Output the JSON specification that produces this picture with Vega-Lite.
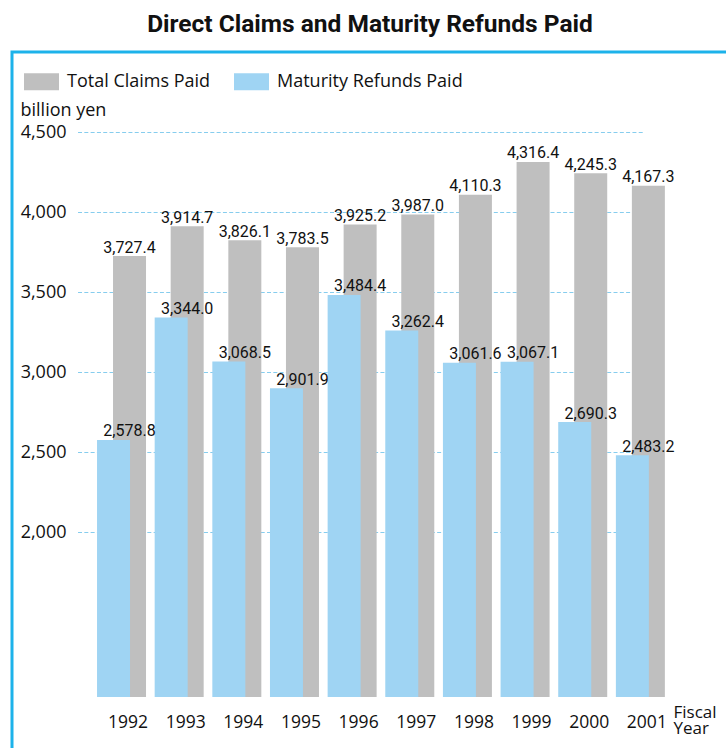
{
  "$schema": "https://vega.github.io/schema/vega-lite/v6.json",
  "width": 726,
  "height": 720,
  "autosize": {"type": "none"},
  "padding": {"left": 12, "top": 52, "right": 0, "bottom": 0},
  "background": "white",
  "title": {
    "text": "Direct Claims and Maturity Refunds Paid",
    "font": "Roboto",
    "fontSize": 24.5,
    "fontWeight": "bold",
    "color": "#111111",
    "anchor": "middle",
    "frame": "group",
    "dx": -5,
    "dy": 26,
    "offset": 22,
    "baseline": "alphabetic"
  },
  "config": {
    "view": {"stroke": "#1cb2ea", "strokeWidth": 3},
    "font": "Open Sans"
  },
  "datasets": {
    "bars": [
      {"year": "1992", "series": "Total Claims Paid", "value": 3727.4},
      {"year": "1993", "series": "Total Claims Paid", "value": 3914.7},
      {"year": "1994", "series": "Total Claims Paid", "value": 3826.1},
      {"year": "1995", "series": "Total Claims Paid", "value": 3783.5},
      {"year": "1996", "series": "Total Claims Paid", "value": 3925.2},
      {"year": "1997", "series": "Total Claims Paid", "value": 3987.0},
      {"year": "1998", "series": "Total Claims Paid", "value": 4110.3},
      {"year": "1999", "series": "Total Claims Paid", "value": 4316.4},
      {"year": "2000", "series": "Total Claims Paid", "value": 4245.3},
      {"year": "2001", "series": "Total Claims Paid", "value": 4167.3},
      {"year": "1992", "series": "Maturity Refunds Paid", "value": 2578.8},
      {"year": "1993", "series": "Maturity Refunds Paid", "value": 3344.0},
      {"year": "1994", "series": "Maturity Refunds Paid", "value": 3068.5},
      {"year": "1995", "series": "Maturity Refunds Paid", "value": 2901.9},
      {"year": "1996", "series": "Maturity Refunds Paid", "value": 3484.4},
      {"year": "1997", "series": "Maturity Refunds Paid", "value": 3262.4},
      {"year": "1998", "series": "Maturity Refunds Paid", "value": 3061.6},
      {"year": "1999", "series": "Maturity Refunds Paid", "value": 3067.1},
      {"year": "2000", "series": "Maturity Refunds Paid", "value": 2690.3},
      {"year": "2001", "series": "Maturity Refunds Paid", "value": 2483.2}
    ],
    "grid": [
      {"value": 2000}, {"value": 2500}, {"value": 3000}, {"value": 3500}, {"value": 4000}, {"value": 4500}
    ]
  },
  "data": {"name": "bars"},
  "encoding": {
    "x": {
      "field": "year",
      "type": "nominal",
      "title": ["Fiscal", "Year"],
      "scale": {
        "domain": ["1992", "1993", "1994", "1995", "1996", "1997", "1998", "1999", "2000", "2001"],
        "range": [80.7, 657.2],
        "paddingInner": 0,
        "paddingOuter": 0
      },
      "axis": {
        "orient": "bottom",
        "offset": -75,
        "domain": false,
        "ticks": false,
        "grid": false,
        "labelAngle": 0,
        "labelFont": "Open Sans",
        "labelFontSize": 17.5,
        "labelColor": "#111111",
        "labelOffset": 6.5,
        "labelBaseline": "alphabetic",
        "labelPadding": 30,
        "titleFont": "Open Sans",
        "titleAlign": "left",
        "titleBaseline": "alphabetic",
        "titleX": 661,
        "titleY": 20,
        "titleFontSize": 17,
        "titleFontWeight": "normal",
        "titleColor": "#111111",
        "titleLineHeight": 16
      }
    },
    "y": {
      "field": "value",
      "type": "quantitative",
      "title": "billion yen",
      "scale": {"domain": [503.125, 5003.125], "nice": false, "zero": false},
      "axis": {
        "orient": "left",
        "offset": -56,
        "values": [2000, 2500, 3000, 3500, 4000, 4500],
        "format": ",d",
        "domain": false,
        "ticks": false,
        "grid": false,
        "labelFont": "Open Sans",
        "labelFontSize": 18,
        "labelColor": "#111111",
        "labelPadding": 2,
        "titleAngle": 0,
        "titleAlign": "left",
        "titleBaseline": "alphabetic",
        "titleX": -48,
        "titleY": 63,
        "titleFont": "Open Sans",
        "titleFontSize": 18,
        "titleFontWeight": "normal",
        "titleColor": "#111111"
      }
    }
  },
  "layer": [
    {
      "data": {"name": "grid"},
      "mark": {"type": "rule", "color": "#86cdee", "strokeDash": [4, 2.3], "strokeWidth": 1, "xOffset": -43.5, "x2Offset": 2.6},
      "encoding": {
        "x": {"datum": "1992", "type": "nominal"},
        "x2": {"datum": "2001"}
      }
    },
    {
      "transform": [{"filter": "datum.series === 'Total Claims Paid'"}],
      "mark": {"type": "bar", "width": 33, "xOffset": 8},
      "encoding": {
        "y2": {"datum": 971.9},
        "color": {
          "field": "series",
          "type": "nominal",
          "scale": {"domain": ["Total Claims Paid", "Maturity Refunds Paid"], "range": ["#bfbfbf", "#9fd4f3"]},
          "legend": {
            "orient": "none",
            "legendX": 12,
            "legendY": 12,
            "direction": "horizontal",
            "title": null,
            "symbolType": "M-1,-0.486H1V0.486H-1Z",
            "symbolSize": 1225,
            "symbolStrokeWidth": 0,
            "symbolOpacity": 1,
            "labelFont": "Open Sans",
            "labelFontSize": 18,
            "labelColor": "#111111",
            "labelOffset": 8,
            "labelLimit": 400,
            "columnPadding": 23,
            "padding": 0
          }
        }
      }
    },
    {
      "transform": [{"filter": "datum.series === 'Maturity Refunds Paid'"}],
      "mark": {"type": "bar", "width": 33, "xOffset": -8},
      "encoding": {
        "y2": {"datum": 971.9},
        "color": {"field": "series", "type": "nominal"}
      }
    },
    {
      "mark": {"type": "text", "font": "Roboto", "fontSize": 16, "color": "#111111", "baseline": "alphabetic", "dy": -3.5, "xOffset": 8},
      "encoding": {
        "text": {"field": "value", "type": "quantitative", "format": ",.1f"}
      }
    }
  ]
}
